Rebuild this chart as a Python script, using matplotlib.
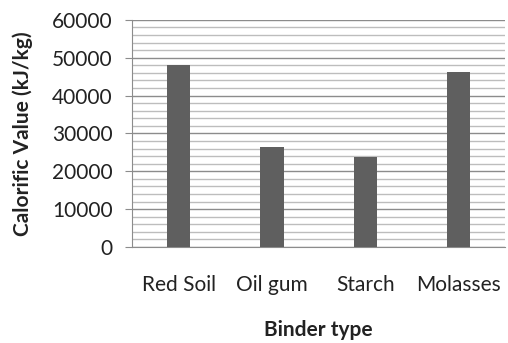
import matplotlib

matplotlib.use("Agg")
import matplotlib.pyplot as plt
from matplotlib.ticker import MultipleLocator

binders = ["Red Soil", "Oil gum", "Starch", "Molasses"]
calorific_values = [48000, 26500, 23700, 46300]

plt.rcParams["font.family"] = ["Lato", "DejaVu Sans"]

fig = plt.figure(figsize=(5.08, 3.43), dpi=100)
ax = fig.add_axes([0.26, 0.28, 0.735, 0.662])

x = range(len(binders))
ax.bar(x, calorific_values, width=0.25, color="#5f5f5f", zorder=3)

ax.set_xlim(-0.5, len(binders) - 0.5)
ax.set_ylim(0, 60000)
ax.yaxis.set_major_locator(MultipleLocator(10000))
ax.yaxis.set_minor_locator(MultipleLocator(2000))
ax.grid(True, which="major", axis="y", color="#8c8c8c", linewidth=1.0, zorder=0)
ax.grid(True, which="minor", axis="y", color="#bdbdbd", linewidth=1.0, zorder=0)

ax.set_xticks(list(x))
ax.set_xticklabels(binders, fontsize=15, color="#222222")
ax.tick_params(axis="x", length=0, pad=20)
ax.tick_params(axis="y", which="major", length=5, color="#8c8c8c", labelsize=15,
               labelcolor="#222222", pad=9)
ax.tick_params(axis="y", which="minor", length=0)

for side in ["top", "right"]:
    ax.spines[side].set_visible(False)
for side in ["left", "bottom"]:
    ax.spines[side].set_color("#8c8c8c")

ax.set_xlabel("Binder type", fontsize=15, fontweight="bold", color="#222222", labelpad=18)
ax.set_ylabel("Calorific Value (kJ/kg)", fontsize=15, fontweight="bold", color="#222222", labelpad=14)

fig.savefig("out.png", dpi=100, facecolor="white")
